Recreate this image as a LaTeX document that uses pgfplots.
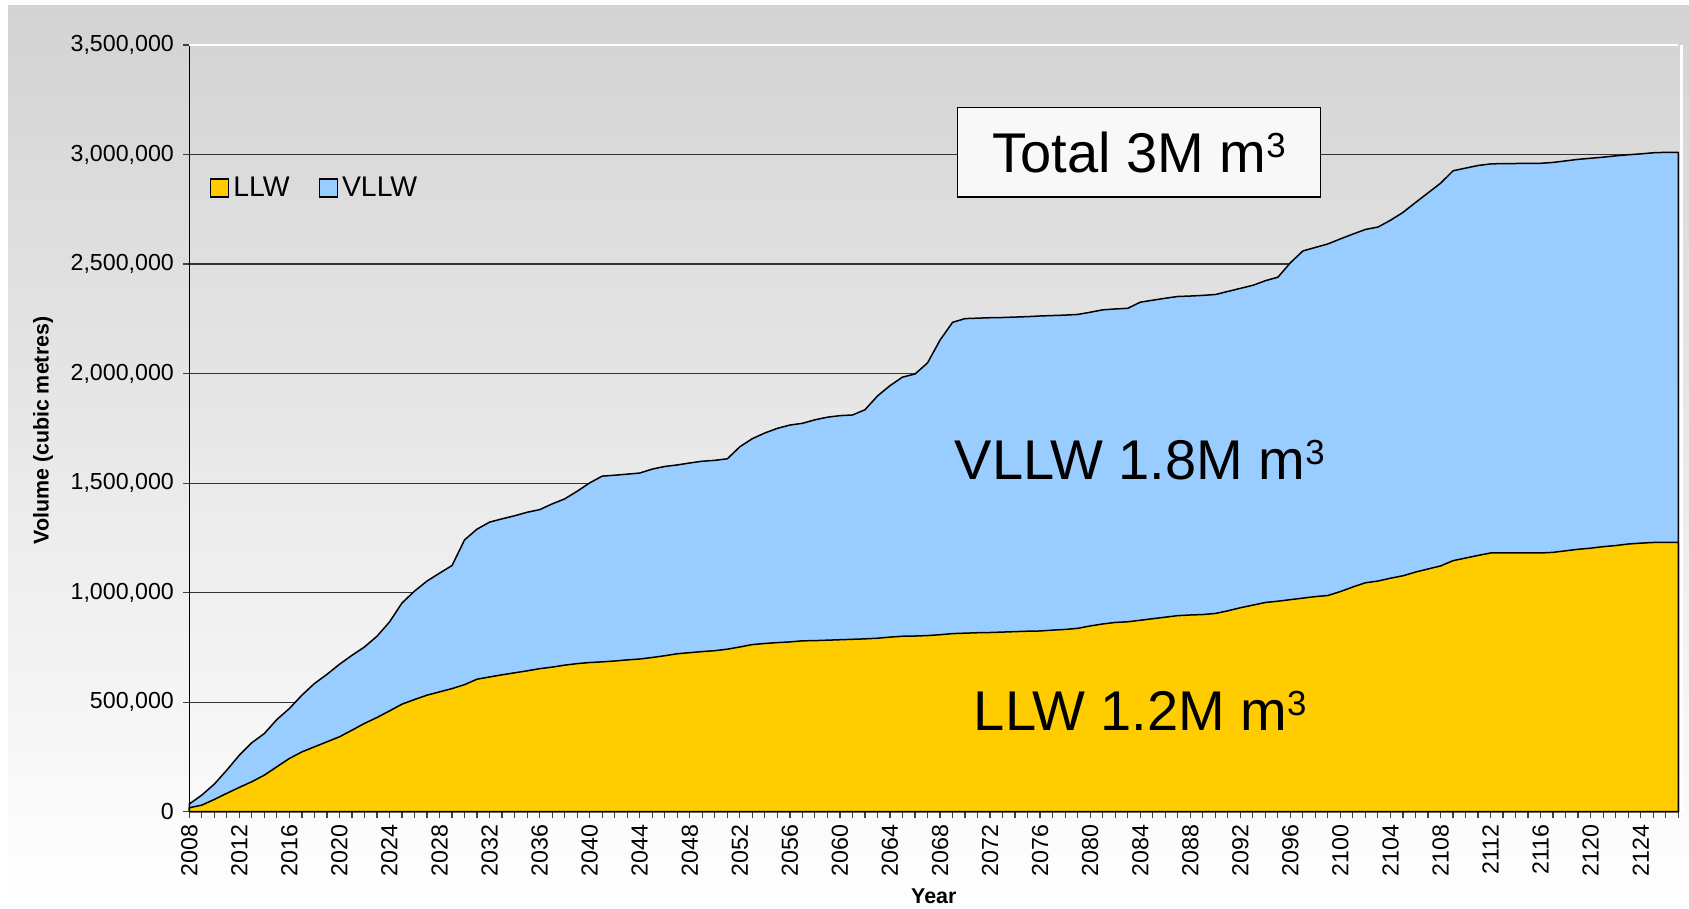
\documentclass[border=0pt]{standalone}
\usepackage{pgfplots}
\pgfplotsset{compat=1.18}
\usepackage{pgfplotstable}
\usepackage{fontspec}
\setmainfont{Liberation Sans}
\definecolor{llwc}{RGB}{255,204,0}
\definecolor{vllwc}{RGB}{153,204,255}
\definecolor{bgtop}{RGB}{211,211,211}
\definecolor{boxfill}{RGB}{248,248,248}

\pgfplotstableread{
year total llw
2008 35000 18000
2009 76000 30000
2010 126000 56000
2011 190000 84000
2012 258000 111000
2013 315000 137000
2014 357000 167000
2015 421000 205000
2016 471000 243000
2017 532000 273000
2018 585000 296000
2019 627000 319000
2020 673000 342000
2021 714000 372000
2022 752000 403000
2023 801000 430000
2024 866000 460000
2025 953000 491000
2026 1007000 512000
2027 1053000 532000
2028 1089000 547000
2029 1124000 562000
2030 1241000 580000
2031 1290000 605000
2032 1322000 615000
2033 1337000 625000
2034 1351000 634000
2035 1367000 643000
2036 1379000 653000
2037 1405000 660000
2038 1428000 669000
2039 1463000 676000
2040 1501000 681000
2041 1532000 684000
2042 1536000 688000
2043 1541000 693000
2044 1546000 697000
2045 1564000 704000
2046 1576000 712000
2047 1583000 721000
2048 1592000 726000
2049 1600000 731000
2050 1604000 735000
2051 1611000 742000
2052 1666000 752000
2053 1703000 763000
2054 1729000 768000
2055 1750000 772000
2056 1765000 775000
2057 1773000 780000
2058 1789000 781000
2059 1801000 783000
2060 1808000 785000
2061 1811000 787000
2062 1835000 789000
2063 1898000 792000
2064 1945000 797000
2065 1984000 801000
2066 1998000 802000
2067 2049000 804000
2068 2153000 808000
2069 2234000 813000
2070 2251000 815000
2071 2253000 817000
2072 2255000 818000
2073 2256000 820000
2074 2258000 822000
2075 2260000 824000
2076 2263000 825000
2077 2265000 829000
2078 2267000 832000
2079 2270000 837000
2080 2280000 848000
2081 2291000 857000
2082 2295000 864000
2083 2298000 867000
2084 2326000 874000
2085 2335000 881000
2086 2344000 888000
2087 2352000 895000
2088 2354000 898000
2089 2357000 900000
2090 2361000 905000
2091 2375000 917000
2092 2389000 931000
2093 2403000 943000
2094 2424000 955000
2095 2440000 961000
2096 2506000 968000
2097 2560000 975000
2098 2576000 982000
2099 2592000 987000
2100 2615000 1005000
2101 2637000 1026000
2102 2658000 1045000
2103 2669000 1053000
2104 2700000 1066000
2105 2736000 1077000
2106 2781000 1094000
2107 2825000 1108000
2108 2869000 1122000
2109 2926000 1146000
2110 2938000 1158000
2111 2950000 1170000
2112 2957000 1181000
2113 2959000 1181000
2114 2959000 1181000
2115 2960000 1181000
2116 2960000 1181000
2117 2964000 1184000
2118 2971000 1191000
2119 2978000 1198000
2120 2983000 1203000
2121 2988000 1210000
2122 2994000 1215000
2123 2999000 1222000
2124 3003000 1226000
2125 3008000 1229000
2126 3010000 1229000
2127 3010000 1229000
}\datatable

\newcommand{\cube}{\raisebox{0.27em}{\fontsize{17.4bp}{17.4bp}\selectfont 3}}

\begin{document}
\begin{tikzpicture}
\path[use as bounding box] (0,0) rectangle (844.5bp,454.5bp);
\shade[top color=bgtop, bottom color=white] (4bp,0) rectangle (844.5bp,451.5bp);
\begin{axis}[
  at={(94.65bp,48.65bp)}, anchor=south west,
  scale only axis, width=744.5bp, height=383.35bp,
  xmin=2008, xmax=2127, ymin=0, ymax=3500000,
  clip=false,
  axis lines=left,
  axis line style={black, line width=0.6bp, -},
  /pgf/number format/assume math mode=true,
  scaled y ticks=false,
  ytick={0,500000,1000000,1500000,2000000,2500000,3000000,3500000},
  yticklabel style={/pgf/number format/fixed, /pgf/number format/1000 sep={,}, xshift=-1.2bp},
  xtick={2008,2012,...,2124},
  minor xtick={2008,...,2127},
  xticklabel style={/pgf/number format/1000 sep={}, rotate=90, anchor=east, yshift=0bp},
  ticklabel style={font=\fontsize{11.6bp}{13bp}\selectfont, black},
  tick align=outside,
  major tick length=3bp, minor tick length=3bp,
  tick style={black!75, line width=0.6bp},
  ymajorgrids, grid style={black!80, line width=0.6bp},
  ylabel={Volume (cubic metres)},
  xlabel={Year},
  every axis y label/.style={at={(axis description cs:-0.09825,0.497)}, rotate=90, anchor=center, font=\fontsize{10.7bp}{12bp}\selectfont\bfseries},
  every axis x label/.style={at={(axis description cs:0.5,-0.11)}, anchor=center, font=\fontsize{10.7bp}{12bp}\selectfont\bfseries},
  legend columns=2,
  legend style={at={(axis description cs:0.0135,0.8135)}, anchor=west, draw=none, fill=none, inner sep=0pt,
    font=\fontsize{14.2bp}{16bp}\selectfont, /tikz/every even column/.append style={column sep=12.5bp}},
  legend image code/.code={\draw[#1, draw=black, line width=0.75bp] (0bp,-4.5bp) rectangle (9bp,4.5bp);},
]
\addlegendimage{fill=llwc}
\addlegendentry{LLW}
\addlegendimage{fill=vllwc}
\addlegendentry{VLLW}
\addplot[fill=vllwc, draw=black, line width=0.75bp, line join=round, forget plot] table[x=year,y=total]{\datatable} \closedcycle;
\addplot[fill=llwc, draw=black, line width=0.75bp, line join=round, forget plot] table[x=year,y=llw]{\datatable} \closedcycle;
\draw[white, line width=1bp] (axis cs:2008,3500000) -- (axis cs:2127,3500000);
\draw[white, line width=1.6bp] ([xshift=1.6bp]axis cs:2127,0) -- ([xshift=1.6bp]axis cs:2127,3500000);
\node[draw=black, line width=0.75bp, fill=boxfill, minimum width=181.5bp, minimum height=44.7bp, font=\fontsize{28bp}{30bp}\selectfont] at (axis cs:2083.9,3010000) {Total 3M m\cube};
\node[font=\fontsize{28bp}{30bp}\selectfont] at (axis cs:2083.95,1603000) {VLLW 1.8M m\cube};
\node[font=\fontsize{28bp}{30bp}\selectfont] at (axis cs:2084,459000) {LLW 1.2M m\cube};
\end{axis}
\end{tikzpicture}
\end{document}
